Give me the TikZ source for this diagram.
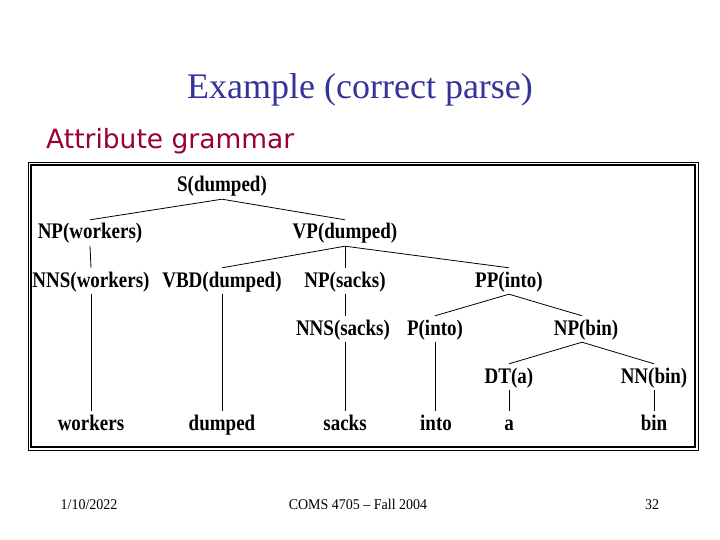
\documentclass[tikz,border=0pt]{standalone}
\usepackage{fontspec}
\setmainfont{Liberation Serif}
\newfontfamily\comicfont{DejaVu Sans}
\definecolor{titleblue}{RGB}{51,51,153}
\definecolor{attrred}{RGB}{153,0,51}
\newcommand{\tallbox}[1]{\scalebox{1}[1.17]{#1}}
\begin{document}
\begin{tikzpicture}[x=1pt,y=-1pt,
  lab/.style={font=\fontsize{19}{19}\selectfont\bfseries, inner xsep=0pt, inner ysep=2pt,
              text height=17pt, text depth=5pt, anchor=base},
  edge/.style={line width=0.8pt},
  foot/.style={font=\fontsize{14}{14}\selectfont, anchor=base}]
\useasboundingbox (0,0) rectangle (720,540);
% title
\node[font=\fontsize{36}{36}\selectfont, text=titleblue, anchor=base] (title) at (360,99) {Example (correct parse)};
\node[font=\comicfont\fontsize{26.5}{26.5}\selectfont, text=attrred, anchor=base west, inner sep=0pt] (attr) at (46,149) {Attribute grammar};
% frame
\draw[line width=0.8pt] (28,162) rectangle (698,450);
\draw[line width=2.2pt] (31,165) rectangle (695,447);
% tree nodes
\node[lab] (S) at (222,192) {\tallbox{S(dumped)}};
\node[lab] (NPw) at (90,239) {\tallbox{NP(workers)}};
\node[lab] (VP) at (345,239) {\tallbox{VP(dumped)}};
\node[lab] (NNSw) at (91,287) {\tallbox{NNS(workers)}};
\node[lab] (VBD) at (222,287) {\tallbox{VBD(dumped)}};
\node[lab] (NPs) at (345,287) {\tallbox{NP(sacks)}};
\node[lab] (PP) at (509,287) {\tallbox{PP(into)}};
\node[lab] (NNSs) at (343,335) {\tallbox{NNS(sacks)}};
\node[lab] (P) at (435,335) {\tallbox{P(into)}};
\node[lab] (NPb) at (586,335) {\tallbox{NP(bin)}};
\node[lab] (DT) at (509,383) {\tallbox{DT(a)}};
\node[lab] (NN) at (654,383) {\tallbox{NN(bin)}};
\node[lab] (w1) at (91,430) {\tallbox{workers}};
\node[lab] (w2) at (222,430) {\tallbox{dumped}};
\node[lab] (w3) at (345,430) {\tallbox{sacks}};
\node[lab] (w4) at (436,430) {\tallbox{into}};
\node[lab] (w5) at (509,430) {\tallbox{a}};
\node[lab] (w6) at (654,430) {\tallbox{bin}};
% edges
\draw[edge] (NPw.north) -- (S.south) -- (VP.north);
\draw[edge] (NPw.south) -- (NNSw.north);
\draw[edge] (VBD.north) -- (VP.south) -- (PP.north);
\draw[edge] (VP.south) -- (NPs.north);
\draw[edge] (NPs.south) -- (NPs.south |- NNSs.north);
\draw[edge] (P.north) -- (PP.south) -- ([xshift=-4pt]NPb.north);
\draw[edge] (DT.north) -- ([xshift=-4pt]NPb.south) -- (NN.north);
\draw[edge] (NNSw.south) -- (w1.north);
\draw[edge] (VBD.south) -- (w2.north);
\draw[edge] (w3.north |- NNSs.south) -- (w3.north);
\draw[edge] (P.south) -- (P.south |- w4.north);
\draw[edge] (DT.south) -- (w5.north);
\draw[edge] (NN.south) -- (w6.north);
% footer
\node[foot] (date) at (89,509) {\scalebox{1}[1.06]{1/10/2022}};
\node[foot] (course) at (358,509) {\scalebox{1}[1.06]{COMS 4705 – Fall 2004}};
\node[foot] (page) at (652,509) {\scalebox{1}[1.06]{32}};
\end{tikzpicture}
\end{document}
